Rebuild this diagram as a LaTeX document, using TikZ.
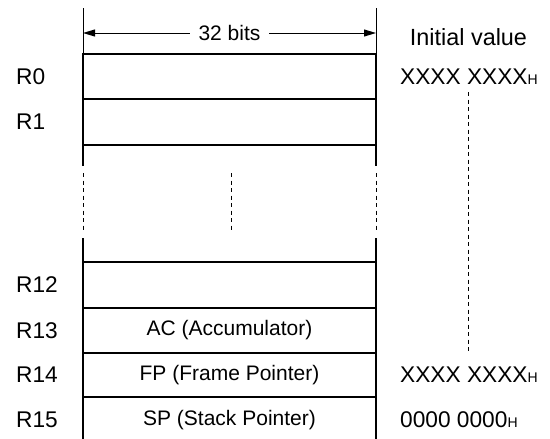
\documentclass[tikz,border=0pt]{standalone}
\usepackage{fontspec}
\setmainfont{Liberation Sans}
\usetikzlibrary{arrows.meta}
\begin{document}
\begin{tikzpicture}[x=1pt,y=-1pt,
  reg/.style={draw, line width=1.9pt, minimum width=293pt, inner sep=0pt, outer sep=0pt, anchor=north west, font=\fontsize{21}{24}\selectfont},
  boxline/.style={line width=1.9pt},
  thinline/.style={line width=1pt},
  dashline/.style={line width=1pt, dash pattern=on 4pt off 3.5pt},
  lbl/.style={anchor=west, inner sep=0pt, font=\fontsize{22.7}{26}\selectfont},
  sm/.style={font=\fontsize{14}{14}\selectfont}
]
\useasboundingbox (0,0) rectangle (550,439);
% registers
\node[reg, minimum height=45pt] (r0) at (83,54) {};
\node[reg, minimum height=46pt] (r1) at (83,99) {};
\node[reg, minimum height=46pt] (r12) at (83,262) {};
\node[reg, minimum height=45pt] (r13) at (83,308) {AC (Accumulator)};
\node[reg, minimum height=44pt] (r14) at (83,353) {FP (Frame Pointer)};
\node[reg, draw=none, minimum height=46pt] (r15) at (83,397) {SP (Stack Pointer)};
% bottom open sides
\coordinate (bl) at (83,439);
\coordinate (br) at (376,439);
\draw[boxline] (r15.north west) -- (bl);
\draw[boxline] (r15.north east) -- (br);
% gap between R1 and R12
\coordinate (gl1) at (83,166); \coordinate (gr1) at (376,166);
\coordinate (gl2) at (83,238); \coordinate (gr2) at (376,238);
\draw[boxline] (r1.south west) -- (gl1);
\draw[boxline] (r1.south east) -- (gr1);
\draw[boxline] (gl2) -- (r12.north west);
\draw[boxline] (gr2) -- (r12.north east);
\coordinate (dl1) at (83,173); \coordinate (dl2) at (83,231);
\coordinate (dr1) at (376,173); \coordinate (dr2) at (376,231);
\coordinate (dc1) at (231,173); \coordinate (dc2) at (231,231);
\draw[dashline] (dl1) -- (dl2);
\draw[dashline] (dr1) -- (dr2);
\draw[dashline] (dc1) -- (dc2);
% top extension lines and width arrow
\coordinate (tl) at (83,8); \coordinate (tr) at (376,8);
\draw[thinline] (tl) -- (r0.north west);
\draw[thinline] (tr) -- (r0.north east);
\coordinate (al) at (83,33); \coordinate (ar) at (376,33);
\draw[thinline, {Triangle[length=12pt,width=7pt]}-{Triangle[length=12pt,width=7pt]}] (al) -- (ar)
  node[midway, fill=white, inner xsep=9pt, inner ysep=2pt, font=\fontsize{21}{24}\selectfont] (bits) {32 bits};
% register names
\node[lbl] (n0) at (16,76.5) {R0};
\node[lbl] (n1) at (16,122) {R1};
\node[lbl] (n12) at (16,285) {R12};
\node[lbl] (n13) at (16,330.5) {R13};
\node[lbl] (n14) at (16,375) {R14};
\node[lbl] (n15) at (16,420) {R15};
% initial values
\node[font=\fontsize{23.4}{26}\selectfont, inner sep=0pt] (iv) at (468.5,37) {Initial value};
\node[lbl] (v0) at (400,76.5) {XXXX XXXX{\fontsize{14}{14}\selectfont H}};
\node[lbl] (v14) at (400,375) {XXXX XXXX{\fontsize{14}{14}\selectfont H}};
\node[lbl] (v15) at (400,420) {0000 0000{\fontsize{14}{14}\selectfont H}};
\coordinate (vd1) at (468,92); \coordinate (vd2) at (468,352);
\draw[dashline] (vd1) -- (vd2);
\end{tikzpicture}
\end{document}
